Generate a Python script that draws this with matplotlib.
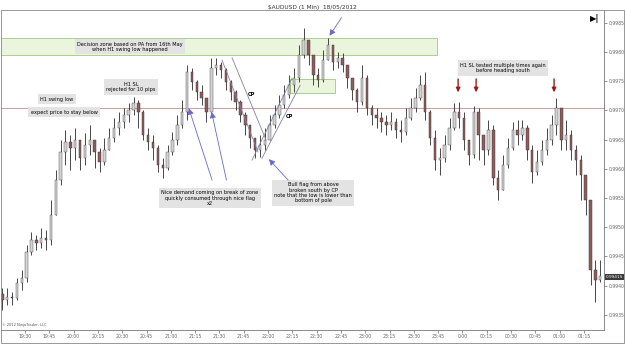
import numpy as np
import matplotlib.pyplot as plt
from matplotlib.patches import Rectangle

# 3-minute bars, minutes after 19:00
t = np.arange(16, 16 + 3 * 124, 3)

close = [0.99375, 0.99380, 0.99379, 0.99404, 0.99413, 0.99457, 0.99478, 0.99473, 0.99481, 0.99478,
         0.99521, 0.99581, 0.99629, 0.99646, 0.99636, 0.99649, 0.99619, 0.99641, 0.99649, 0.99629,
         0.99612, 0.99632, 0.99653, 0.99670, 0.99680, 0.99692, 0.99701, 0.99713, 0.99697, 0.99658,
         0.99646, 0.99636, 0.99606, 0.99601, 0.99629, 0.99649, 0.99675, 0.99697, 0.99766, 0.99749,
         0.99731, 0.99721, 0.99697, 0.99773, 0.99778, 0.99769, 0.99749, 0.99731, 0.99714, 0.99692,
         0.99675, 0.99653, 0.99632, 0.99641, 0.99649, 0.99675, 0.99692, 0.99709, 0.99726, 0.99743,
         0.99755, 0.99795, 0.99821, 0.99795, 0.99761, 0.99752, 0.99786, 0.99812, 0.99783, 0.99790,
         0.99778, 0.99755, 0.99735, 0.99714, 0.99755, 0.99704, 0.99692, 0.99687, 0.99680, 0.99675,
         0.99680, 0.99666, 0.99663, 0.99687, 0.99704, 0.99721, 0.99743, 0.99697, 0.99653, 0.99615,
         0.99619, 0.99641, 0.99670, 0.99697, 0.99687, 0.99649, 0.99624, 0.99697, 0.99658, 0.99632,
         0.99666, 0.99584, 0.99564, 0.99606, 0.99636, 0.99666, 0.99658, 0.99670, 0.99632, 0.99595,
         0.99612, 0.99632, 0.99649, 0.99675, 0.99704, 0.99649, 0.99658, 0.99632, 0.99615, 0.99589,
         0.99547, 0.99426, 0.99409, 0.99416]

high = [0.99396, 0.99396, 0.99389, 0.99413, 0.99426, 0.99469, 0.99492, 0.99487, 0.99499, 0.99495,
        0.99547, 0.99598, 0.99649, 0.99666, 0.99658, 0.99670, 0.99649, 0.99661, 0.99675, 0.99649,
        0.99636, 0.99653, 0.99670, 0.99687, 0.99697, 0.99704, 0.99713, 0.99723, 0.99718, 0.99701,
        0.99670, 0.99658, 0.99641, 0.99619, 0.99641, 0.99663, 0.99692, 0.99718, 0.99778, 0.99773,
        0.99752, 0.99743, 0.99718, 0.99790, 0.99790, 0.99783, 0.99773, 0.99752, 0.99735, 0.99718,
        0.99697, 0.99675, 0.99653, 0.99658, 0.99670, 0.99692, 0.99709, 0.99726, 0.99743, 0.99761,
        0.99773, 0.99812, 0.99841, 0.99821, 0.99795, 0.99773, 0.99803, 0.99824, 0.99803, 0.99800,
        0.99798, 0.99778, 0.99755, 0.99738, 0.99778, 0.99761, 0.99709, 0.99704, 0.99697, 0.99692,
        0.99697, 0.99687, 0.99683, 0.99704, 0.99721, 0.99738, 0.99761, 0.99766, 0.99701, 0.99666,
        0.99636, 0.99658, 0.99687, 0.99713, 0.99714, 0.99697, 0.99649, 0.99708, 0.99704, 0.99658,
        0.99683, 0.99675, 0.99598, 0.99624, 0.99653, 0.99680, 0.99683, 0.99683, 0.99675, 0.99641,
        0.99632, 0.99649, 0.99670, 0.99692, 0.99721, 0.99701, 0.99683, 0.99666, 0.99641, 0.99624,
        0.99589, 0.99547, 0.99444, 0.99444]

low = [0.99358, 0.99367, 0.99367, 0.99375, 0.99392, 0.99406, 0.99452, 0.99461, 0.99464, 0.99461,
       0.99469, 0.99529, 0.99572, 0.99606, 0.99598, 0.99615, 0.99598, 0.99606, 0.99624, 0.99601,
       0.99595, 0.99606, 0.99632, 0.99646, 0.99658, 0.99670, 0.99680, 0.99692, 0.99670, 0.99649,
       0.99632, 0.99615, 0.99595, 0.99584, 0.99598, 0.99624, 0.99641, 0.99670, 0.99683, 0.99735,
       0.99718, 0.99709, 0.99680, 0.99697, 0.99761, 0.99755, 0.99735, 0.99718, 0.99701, 0.99680,
       0.99658, 0.99636, 0.99619, 0.99620, 0.99632, 0.99649, 0.99670, 0.99687, 0.99704, 0.99721,
       0.99731, 0.99749, 0.99790, 0.99778, 0.99743, 0.99740, 0.99749, 0.99786, 0.99769, 0.99773,
       0.99766, 0.99738, 0.99718, 0.99697, 0.99709, 0.99692, 0.99675, 0.99670, 0.99663, 0.99658,
       0.99666, 0.99653, 0.99646, 0.99658, 0.99683, 0.99697, 0.99718, 0.99683, 0.99641, 0.99598,
       0.99589, 0.99612, 0.99632, 0.99666, 0.99670, 0.99632, 0.99606, 0.99619, 0.99615, 0.99606,
       0.99624, 0.99572, 0.99547, 0.99564, 0.99601, 0.99632, 0.99641, 0.99649, 0.99615, 0.99576,
       0.99589, 0.99606, 0.99624, 0.99641, 0.99658, 0.99632, 0.99632, 0.99615, 0.99589, 0.99547,
       0.99521, 0.99401, 0.99372, 0.99406]

first_open = 0.99385
last_price = 0.99415

zone_low, zone_high, zone_end = 0.99795, 0.99824, 284
flag_low, flag_high = 0.99730, 0.99754
swing_low = 0.99705

tick_times = np.arange(30, 376, 15)
tick_labels = ["19:30", "19:45", "20:00", "20:15", "20:30", "20:45", "21:00", "21:15",
               "21:30", "21:45", "22:00", "22:15", "22:30", "22:45", "23:00", "23:15",
               "23:30", "23:45", "0:00", "00:15", "00:30", "00:45", "01:00", "01:15"]
price_ticks = [0.9935, 0.9940, 0.9945, 0.9950, 0.9955, 0.9960, 0.9965, 0.9970, 0.9975, 0.9980, 0.9985]

c = np.array(close)
o = np.concatenate([[first_open], c[:-1]])
h = np.maximum(np.array(high), np.maximum(o, c))
l = np.minimum(np.array(low), np.minimum(o, c))
up = c >= o

fig = plt.figure(figsize=(6.25, 3.45), dpi=100)
ax = fig.add_axes([0.0016, 0.0435, 0.965, 0.9275])

# zones
ax.add_patch(Rectangle((0, zone_low), zone_end, zone_high - zone_low,
                       facecolor="#ebf5dd", edgecolor="#a9cf8c", lw=0.7, zorder=0))
ax.add_patch(Rectangle((193.6, flag_low), 27.8, flag_high - flag_low,
                       facecolor="#ebf5dd", edgecolor="#a9cf8c", lw=0.7, zorder=0))
ax.axhline(swing_low, color="#c9a3a3", lw=0.8, zorder=1)

# candles
ax.vlines(t, l, h, color="#2a2a2a", lw=0.6, zorder=2)
body = np.maximum(np.abs(c - o), 0.000012)
ax.bar(t[up], body[up], bottom=np.minimum(o, c)[up], width=1.5,
       color="#d4d4d4", edgecolor="#444444", lw=0.3, zorder=3)
ax.bar(t[~up], body[~up], bottom=np.minimum(o, c)[~up], width=1.5,
       color="#8e5e5e", edgecolor="#3a2a2a", lw=0.3, zorder=3)

# flag channel lines
for x0, y0, x1, y1 in [(151.6, 0.99786, 173.8, 0.99629), (157.8, 0.99790, 178.8, 0.99649),
                       (170.1, 0.99615, 194.8, 0.99755), (176.2, 0.99618, 199.8, 0.99743)]:
    ax.plot([x0, x1], [y0, y1], color="#8080a8", lw=0.6, zorder=4)

box = dict(boxstyle="square,pad=0.5", facecolor="#e3e3e3", edgecolor="none")
notes = [
    (94.8, 0.99809, "Decision zone based on PA from 16th May\nwhen H1 swing low happened"),
    (95.4, 0.99740, "H1 SL\nrejected for 10 pips"),
    (49.8, 0.99719, "H1 swing low"),
    (54.1, 0.99697, "expect price to stay below"),
    (144.2, 0.99550, "Nice demand coming on break of zone\nquickly consumed through nice flag\nx2"),
    (207.8, 0.99559, "Bull flag from above\nbroken south by CP\nnote that the low is lower than\nbottom of pole"),
    (325.1, 0.99773, "H1 SL tested multiple times again\nbefore heading south"),
]
for x, y, s in notes:
    ax.text(x, y, s, fontsize=3.6, ha="center", va="center", bbox=box,
            linespacing=1.1, zorder=6)
ax.text(169.5, 0.99728, "CP", fontsize=3.6, weight="bold", ha="center", va="center", zorder=6)
ax.text(193, 0.99689, "CP", fontsize=3.6, weight="bold", ha="center", va="center", zorder=6)

blue = dict(arrowstyle="-|>,head_length=0.35,head_width=0.18", color="#6a6ac8", lw=0.6)
for (x0, y0), (x1, y1) in [((226.3, 0.99863), (217, 0.99824)),
                           ((146, 0.99576), (130.6, 0.99708)),
                           ((154.7, 0.99576), (144.8, 0.99702)),
                           ((193.6, 0.99577), (179.4, 0.99620))]:
    ax.annotate("", xy=(x1, y1), xytext=(x0, y0), arrowprops=dict(blue), zorder=7)
red = dict(arrowstyle="-|>,head_length=0.25,head_width=0.12", color="#9b1b1b", lw=1.0,
           shrinkA=0, shrinkB=0)
for x in [297.3, 308.4, 356.5]:
    ax.annotate("", xy=(x, 0.99731), xytext=(x, 0.99754), arrowprops=red, zorder=7)

ax.set_xlim(15.2, 387.4)
ax.set_ylim(0.99324, 0.99872)
ax.set_xticks(tick_times)
ax.set_xticklabels(tick_labels)
ax.set_yticks(price_ticks)
ax.set_yticklabels([f"{p:.4f}" for p in price_ticks])
ax.yaxis.tick_right()
ax.tick_params(labelsize=3.3, colors="#666666", length=2, width=0.5, pad=1)
ax.spines["top"].set_visible(False)
ax.spines["left"].set_visible(False)
for s in ["right", "bottom"]:
    ax.spines[s].set_color("#777777")
    ax.spines[s].set_linewidth(0.6)

ax.text(1.003, last_price, f"{last_price:.5f}", transform=ax.get_yaxis_transform(),
        fontsize=3.1, color="white", va="center", ha="left",
        bbox=dict(boxstyle="square,pad=0.2", facecolor="#3a3a3a", edgecolor="none"))
ax.text(0.984, 0.975, "▶|", transform=ax.transAxes, fontsize=6, weight="bold",
        ha="center", va="center")
ax.text(0.002, 0.01, "© 2012 NinjaTrader, LLC", transform=ax.transAxes, fontsize=2.6,
        color="#555555", ha="left", va="bottom")

fig.text(0.5, 0.985, "$AUDUSD (1 Min)  18/05/2012", fontsize=4.2, ha="center", va="top",
         color="#333333")
fig.add_artist(Rectangle((0.0008, 0.006), 0.998, 0.965, transform=fig.transFigure,
                         fill=False, edgecolor="#888888", lw=0.6))

fig.savefig("out.png", dpi=100)
